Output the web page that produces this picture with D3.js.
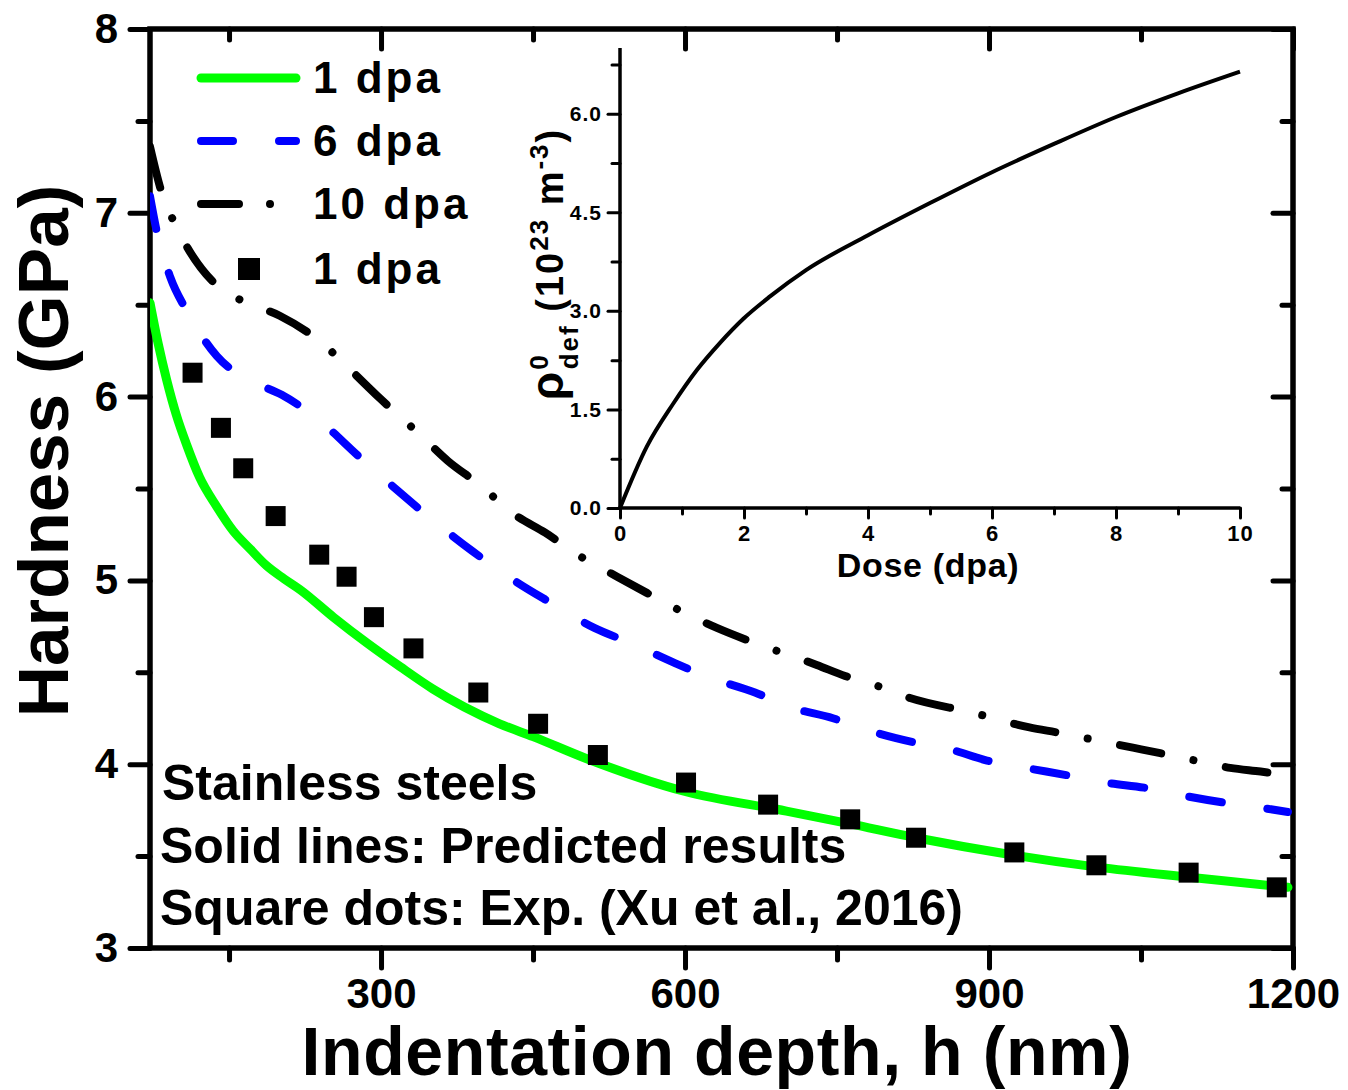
<!DOCTYPE html>
<html>
<head>
<meta charset="utf-8">
<script src="https://cdn.jsdelivr.net/npm/d3@7"></script>
<style>
  body { margin: 0; background: #fff; }
  svg { display: block; font-family: "Liberation Sans", Arial, sans-serif; font-weight: bold; }
</style>
</head>
<body>
<div id="chart"></div>
<script>
// main chart data: hardness vs indentation depth
const depth1 = [72, 80, 88.5, 98, 108, 121, 138, 154, 171, 187, 204, 220, 253, 286, 319, 351, 417, 450, 503, 601, 700, 763, 828, 925, 1007, 1098, 1195];
const hard1 = [6.51, 6.29, 6.09, 5.90, 5.74, 5.56, 5.40, 5.27, 5.17, 5.08, 5.01, 4.95, 4.80, 4.66, 4.53, 4.41, 4.22, 4.15, 4.03, 3.85, 3.745, 3.675, 3.60, 3.505, 3.44, 3.385, 3.33];

const depth6 = [72, 79, 92, 109, 138, 174, 202, 237, 279, 312, 355, 390, 434, 467, 511, 546, 590, 625, 669, 704, 746, 783, 825, 862, 898, 936, 977, 1015, 1056, 1091, 1133, 1172, 1195];
const hard6 = [7.09, 6.89, 6.65, 6.46, 6.22, 6.08, 6.01, 5.88, 5.67, 5.51, 5.31, 5.16, 4.99, 4.88, 4.74, 4.66, 4.55, 4.47, 4.39, 4.31, 4.25, 4.18, 4.12, 4.08, 4.02, 3.98, 3.94, 3.90, 3.87, 3.83, 3.79, 3.76, 3.74];

const depth10 = [72, 83, 94, 109, 141, 168, 200, 242, 269, 299, 339, 366, 395, 434, 462, 491, 533, 563, 590, 632, 659, 689, 730, 758, 788, 822, 884, 940, 970, 997, 1042, 1069, 1095, 1138, 1168, 1195];
const hard10 = [7.36, 7.12, 6.97, 6.81, 6.59, 6.51, 6.44, 6.29, 6.15, 5.99, 5.79, 5.65, 5.53, 5.35, 5.26, 5.15, 5.02, 4.93, 4.85, 4.74, 4.68, 4.62, 4.54, 4.48, 4.43, 4.36, 4.28, 4.20, 4.17, 4.14, 4.09, 4.06, 4.03, 3.98, 3.96, 3.94];

// experiment (Xu et al., 2016)
const depthExp = [114, 142, 164, 196, 239, 266, 293, 332, 396, 455, 514, 601, 682, 763, 828, 925, 1006, 1097, 1184];
const hardExp = [6.13, 5.83, 5.61, 5.35, 5.14, 5.02, 4.80, 4.63, 4.39, 4.22, 4.05, 3.90, 3.78, 3.70, 3.60, 3.52, 3.45, 3.41, 3.33];

const xMajor = [300, 600, 900, 1200];
const xMinor = [150, 450, 750, 1050];
const yMajor = [3, 4, 5, 6, 7, 8];
const yMinor = [3.5, 4.5, 5.5, 6.5, 7.5];

// inset: defect density vs dose
const dose = [0, 0.43, 0.86, 1.24, 1.61, 1.99, 2.42, 3, 4, 5, 6, 7, 8, 9, 10];
const rho = [0, 0.93, 1.59, 2.10, 2.51, 2.88, 3.22, 3.62, 4.15, 4.64, 5.11, 5.54, 5.95, 6.31, 6.64];
const doseMajor = [0, 2, 4, 6, 8, 10];
const doseMinor = [1, 3, 5, 7, 9];
const rhoMajor = [0, 1.5, 3, 4.5, 6];
const rhoMinor = [0.75, 2.25, 3.75, 5.25, 6.75];

const seriesNames = ["1 dpa", "6 dpa", "10 dpa", "1 dpa"];

const svg = d3.select("#chart").append("svg")
  .attr("width", 1348)
  .attr("height", 1090);

const x = d3.scaleLinear().domain([72, 1200]).range([150, 1293]);
const y = d3.scaleLinear().domain([3, 8]).range([948, 29]);

function styleAxis(g, w, fs, ls) {
  g.select(".domain").remove();
  g.selectAll(".tick line").attr("stroke", "#000").attr("stroke-width", w).attr("stroke-linecap", "round");
  g.selectAll(".tick text").attr("fill", "#000").style("font-size", fs + "px")
    .style("font-weight", "bold").style("font-family", "'Liberation Sans', Arial, sans-serif")
    .style("letter-spacing", ls + "px");
}

// axes of main plot
svg.append("g").attr("transform", "translate(0,948)")
  .call(d3.axisBottom(x).tickValues(xMajor).tickSize(20).tickPadding(10).tickFormat(d3.format("d")))
  .call(g => styleAxis(g, 5, 42, 0));
svg.append("g").attr("transform", "translate(0,948)")
  .call(d3.axisBottom(x).tickValues(xMinor).tickSize(12).tickFormat(""))
  .call(g => styleAxis(g, 5, 42, 0));
svg.append("g").attr("transform", "translate(0,29)")
  .call(d3.axisTop(x).tickValues(xMajor).tickSize(-20).tickFormat(""))
  .call(g => styleAxis(g, 5, 42, 0));
svg.append("g").attr("transform", "translate(0,29)")
  .call(d3.axisTop(x).tickValues(xMinor).tickSize(-11).tickFormat(""))
  .call(g => styleAxis(g, 5, 42, 0));
svg.append("g").attr("transform", "translate(150,0)")
  .call(d3.axisLeft(y).tickValues(yMajor).tickSize(20).tickPadding(12).tickFormat(d3.format("d")))
  .call(g => styleAxis(g, 5, 42, 0));
svg.append("g").attr("transform", "translate(150,0)")
  .call(d3.axisLeft(y).tickValues(yMinor).tickSize(12).tickFormat(""))
  .call(g => styleAxis(g, 5, 42, 0));
svg.append("g").attr("transform", "translate(1293,0)")
  .call(d3.axisRight(y).tickValues(yMajor).tickSize(-20).tickFormat(""))
  .call(g => styleAxis(g, 5, 42, 0));
svg.append("g").attr("transform", "translate(1293,0)")
  .call(d3.axisRight(y).tickValues(yMinor).tickSize(-11).tickFormat(""))
  .call(g => styleAxis(g, 5, 42, 0));

// frame
svg.append("rect")
  .attr("x", x(72)).attr("y", y(8))
  .attr("width", x(1200) - x(72)).attr("height", y(3) - y(8))
  .attr("fill", "none").attr("stroke", "#000").attr("stroke-width", 5.5);

svg.append("clipPath").attr("id", "clip")
  .append("rect").attr("x", x(72)).attr("y", y(8))
  .attr("width", x(1200) - x(72)).attr("height", y(3) - y(8));

const line = d3.line().x(d => x(d[0])).y(d => y(d[1])).curve(d3.curveMonotoneX);
const curves = svg.append("g").attr("clip-path", "url(#clip)");

curves.append("path").datum(d3.zip(depth1, hard1))
  .attr("d", line).attr("fill", "none").attr("stroke", "#00ff00")
  .attr("stroke-width", 9).attr("stroke-linecap", "round");
curves.append("path").datum(d3.zip(depth6, hard6))
  .attr("d", line).attr("fill", "none").attr("stroke", "#0000ff")
  .attr("stroke-width", 8).attr("stroke-linecap", "round")
  .attr("stroke-dasharray", "33,46");
curves.append("path").datum(d3.zip(depth10, hard10))
  .attr("d", line).attr("fill", "none").attr("stroke", "#000")
  .attr("stroke-width", 8).attr("stroke-linecap", "round")
  .attr("stroke-dasharray", "42,33,0.01,33");

// experiment squares
svg.append("g").selectAll("rect")
  .data(d3.zip(depthExp, hardExp))
  .join("rect")
  .attr("x", d => x(d[0]) - 10).attr("y", d => y(d[1]) - 10)
  .attr("width", 20).attr("height", 20).attr("fill", "#000");

// legend
const legend = svg.append("g");
const legY = [78, 141, 204, 269];
const legStyle = [
  {stroke: "#00ff00", w: 9, dash: null, end: 296},
  {stroke: "#0000ff", w: 8, dash: "32,46", end: 296},
  {stroke: "#000", w: 8, dash: "38,31,0.01,40", end: 271}
];
legStyle.forEach((s, i) => {
  legend.append("line")
    .attr("x1", 201).attr("x2", s.end).attr("y1", legY[i]).attr("y2", legY[i])
    .attr("stroke", s.stroke).attr("stroke-width", s.w).attr("stroke-linecap", "round")
    .attr("stroke-dasharray", s.dash);
});
legend.append("rect").attr("x", 238).attr("y", legY[3] - 11).attr("width", 22).attr("height", 22).attr("fill", "#000");
legend.selectAll("text").data(seriesNames).join("text")
  .attr("x", 313).attr("y", (d, i) => legY[i] + 15)
  .style("font-size", "44px").style("letter-spacing", "3px")
  .text(d => d);

// annotation
const notes = ["Stainless steels", "Solid lines: Predicted results", "Square dots: Exp. (Xu et al., 2016)"];
svg.append("g").selectAll("text").data(notes).join("text")
  .attr("x", (d, i) => i === 0 ? 162 : 160)
  .attr("y", (d, i) => [800, 863, 925][i])
  .style("font-size", "50px")
  .text(d => d);

// axis titles
svg.append("text")
  .attr("transform", "translate(68,451) rotate(-90)")
  .attr("text-anchor", "middle")
  .style("font-size", "71px")
  .text("Hardness (GPa)");
svg.append("text")
  .attr("x", 717).attr("y", 1075)
  .attr("text-anchor", "middle")
  .style("font-size", "68px").style("letter-spacing", "0.6px")
  .text("Indentation depth, h (nm)");

// ----- inset -----
const ix = d3.scaleLinear().domain([0, 10]).range([620, 1240]);
const iy = d3.scaleLinear().domain([0, 7]).range([508, 48]);

svg.append("g").attr("transform", "translate(0,508)")
  .call(d3.axisBottom(ix).tickValues(doseMajor).tickSize(10).tickPadding(7).tickFormat(d3.format("d")))
  .call(g => styleAxis(g, 3, 22, 1));
svg.append("g").attr("transform", "translate(0,508)")
  .call(d3.axisBottom(ix).tickValues(doseMinor).tickSize(6).tickFormat(""))
  .call(g => styleAxis(g, 3, 22, 1));
svg.append("g").attr("transform", "translate(620,0)")
  .call(d3.axisLeft(iy).tickValues(rhoMajor).tickSize(12).tickPadding(6).tickFormat(d3.format(".1f")))
  .call(g => styleAxis(g, 3, 21, 1));
svg.append("g").attr("transform", "translate(620,0)")
  .call(d3.axisLeft(iy).tickValues(rhoMinor).tickSize(8).tickFormat(""))
  .call(g => styleAxis(g, 3, 21, 1));

svg.append("line").attr("x1", ix(0)).attr("x2", ix(10)).attr("y1", iy(0)).attr("y2", iy(0))
  .attr("stroke", "#000").attr("stroke-width", 3.5);
svg.append("line").attr("x1", ix(0)).attr("x2", ix(0)).attr("y1", iy(0)).attr("y2", iy(7))
  .attr("stroke", "#000").attr("stroke-width", 3.5);

const iline = d3.line().x(d => ix(d[0])).y(d => iy(d[1])).curve(d3.curveMonotoneX);
svg.append("path").datum(d3.zip(dose, rho))
  .attr("d", iline).attr("fill", "none").attr("stroke", "#000").attr("stroke-width", 4);

svg.append("text")
  .attr("x", 928).attr("y", 577)
  .attr("text-anchor", "middle")
  .style("font-size", "34px").style("letter-spacing", "0.7px")
  .text("Dose (dpa)");

const ylab = svg.append("text")
  .attr("transform", "translate(563,264) rotate(-90)")
  .attr("text-anchor", "middle")
  .style("font-size", "38px").style("letter-spacing", "2px");
ylab.append("tspan").style("font-size", "46px").text("\u03c1");
ylab.append("tspan").attr("baseline-shift", "super").style("font-size", "26px").text("0");
ylab.append("tspan").attr("dx", -16).attr("baseline-shift", "sub").style("font-size", "26px").text("def");
ylab.append("tspan").text(" (10");
ylab.append("tspan").attr("baseline-shift", "super").style("font-size", "26px").text("23");
ylab.append("tspan").text(" m");
ylab.append("tspan").attr("baseline-shift", "super").style("font-size", "26px").text("-3");
ylab.append("tspan").text(")");
</script>
</body>
</html>
